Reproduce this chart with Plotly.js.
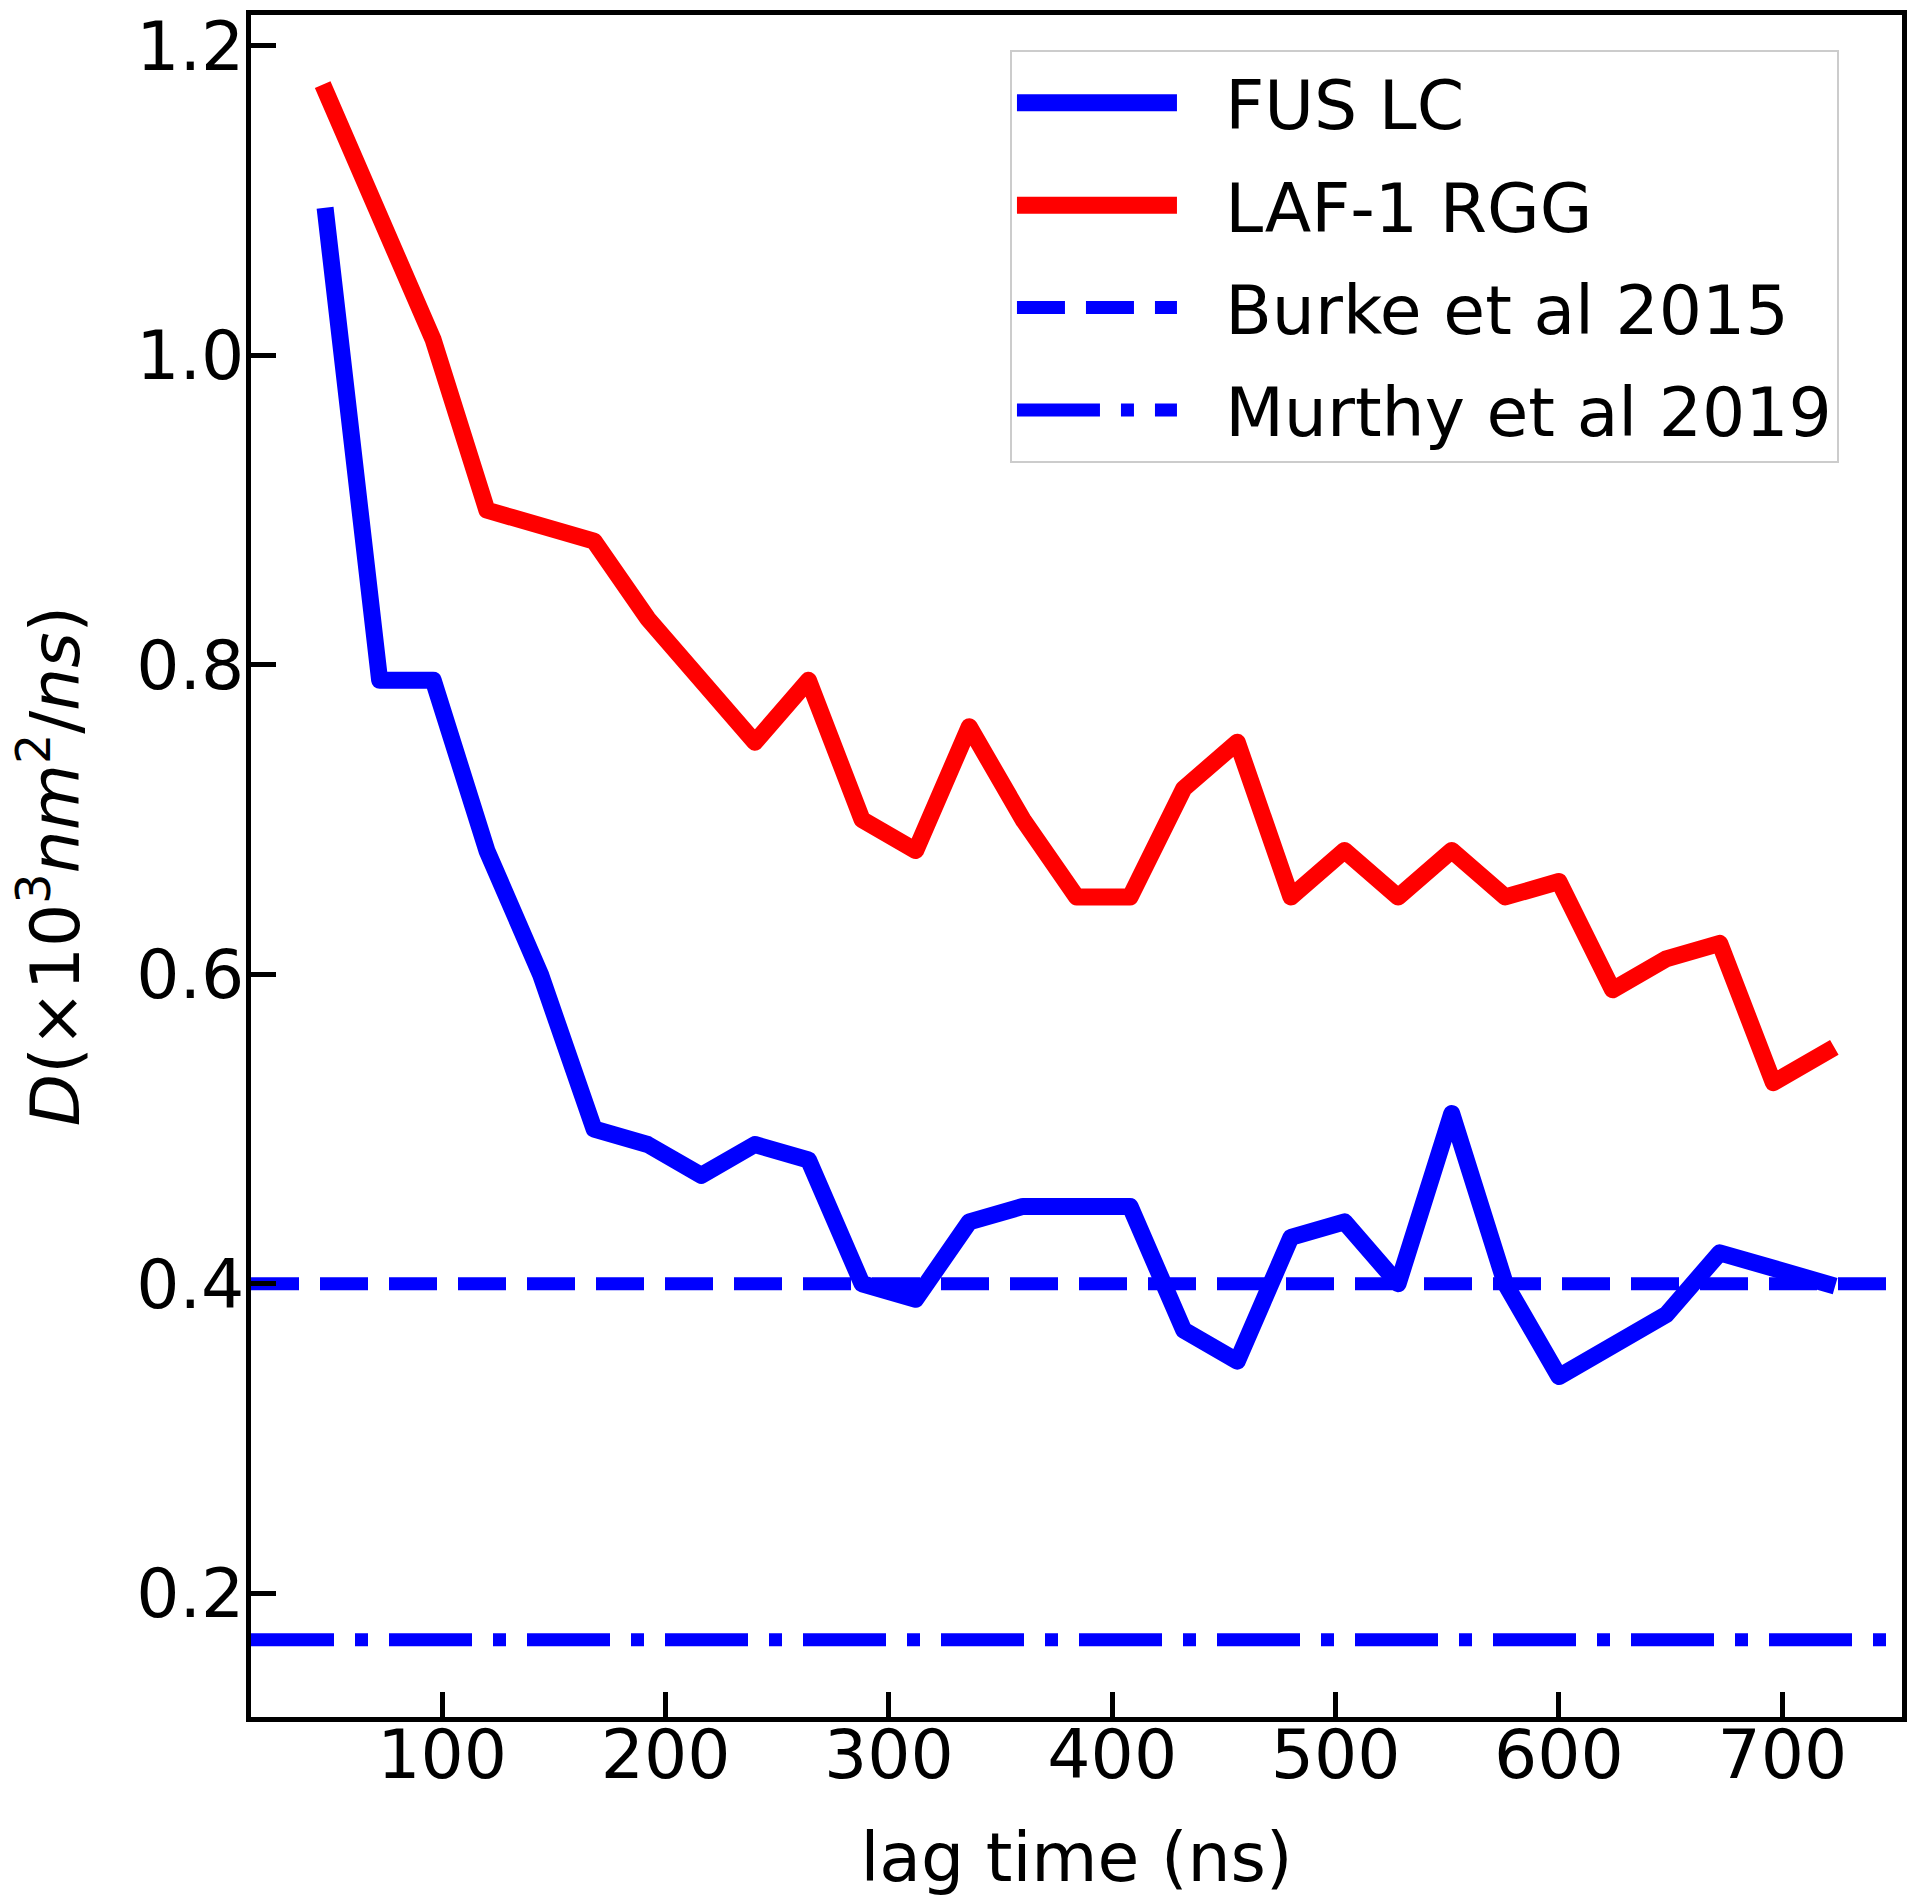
<!DOCTYPE html>
<html>
<head>
<meta charset="utf-8">
<script src="https://cdn.plot.ly/plotly-3.0.1.min.js"></script>
<style>
  html, body { margin: 0; padding: 0; background: #ffffff; }
  #chart { width: 1920px; height: 1901px; }
  .scatterlayer .js-line { stroke-linejoin: round; }
  .scatterlayer .trace:nth-child(-n+2) .js-line { stroke-linecap: square; }
  .legend .groups:nth-child(-n+2) .legendlines path { stroke-width: 17px !important; }
  .legend .groups:nth-child(n+3) .legendlines path { stroke-width: 13px !important; }
</style>
</head>
<body>
<div id="chart"></div>
<script>
// ---- data ----
const lagTime = [48, 72, 96, 120, 144, 168, 192, 216, 240, 264, 288, 312, 336, 360, 384,
                 408, 432, 456, 480, 504, 528, 552, 576, 600, 624, 648, 672, 696, 720];
const fusLC = [1.09, 0.79, 0.79, 0.68, 0.60, 0.50, 0.49, 0.47, 0.49, 0.48, 0.40, 0.39, 0.44, 0.45, 0.45,
               0.45, 0.37, 0.35, 0.43, 0.44, 0.40, 0.51, 0.40, 0.34, 0.36, 0.38, 0.42, 0.41, 0.40];
const laf1RGG = [1.17, 1.09, 1.01, 0.90, 0.89, 0.88, 0.83, 0.79, 0.75, 0.79, 0.70, 0.68, 0.76, 0.70, 0.65,
                 0.65, 0.72, 0.75, 0.65, 0.68, 0.65, 0.68, 0.65, 0.66, 0.59, 0.61, 0.62, 0.53, 0.55];
const burke2015 = 0.40;
const murthy2019 = 0.17;
const seriesNames = ["FUS LC", "LAF-1 RGG", "Burke et al 2015", "Murthy et al 2019"];
const xRange = [14.4, 753.6];
const yRange = [0.12, 1.22];
const xTicks = [100, 200, 300, 400, 500, 600, 700];
const yTicks = [0.2, 0.4, 0.6, 0.8, 1.0, 1.2];

const BLUE = "#0000ff", RED = "#ff0000";
const LW_SOLID = 17, LW_REF = 13;
const PAD = "\u00a0\u00a0";

const traces = [
  { x: lagTime, y: fusLC, name: PAD + seriesNames[0], mode: "lines", legendgroup: "a",
    line: { color: BLUE, width: LW_SOLID } },
  { x: lagTime, y: laf1RGG, name: PAD + seriesNames[1], mode: "lines", legendgroup: "b",
    line: { color: RED, width: LW_SOLID } },
  { x: xRange, y: [burke2015, burke2015], name: PAD + seriesNames[2], mode: "lines", legendgroup: "c",
    line: { color: BLUE, width: LW_REF, dash: "48px,21px" } },
  { x: xRange, y: [murthy2019, murthy2019], name: PAD + seriesNames[3], mode: "lines", legendgroup: "d",
    line: { color: BLUE, width: LW_REF, dash: "83px,21px,13px,21px" } }
];

const FONT = { family: "DejaVu Sans", size: 68, color: "#000000" };

const layout = {
  width: 1920, height: 1901,
  margin: { l: 251, r: 18, t: 15, b: 184 },
  paper_bgcolor: "#ffffff", plot_bgcolor: "#ffffff",
  font: FONT,
  showlegend: true,
  xaxis: {
    range: xRange, tickvals: xTicks, ticktext: xTicks.map(String),
    ticks: "inside", ticklen: 25, tickwidth: 5, tickcolor: "#000",
    showline: true, linewidth: 5, linecolor: "#000", mirror: true,
    showgrid: false, zeroline: false,
    tickfont: FONT, ticklabelstandoff: -26,
    title: { text: "lag time (ns)", font: FONT, standoff: 42 }
  },
  yaxis: {
    range: yRange, tickvals: yTicks, ticktext: yTicks.map(v => v.toFixed(1)),
    ticks: "inside", ticklen: 25, tickwidth: 5, tickcolor: "#000",
    showline: true, linewidth: 5, linecolor: "#000", mirror: true,
    showgrid: false, zeroline: false,
    tickfont: FONT, ticklabelstandoff: -12,
    title: { text: "<i>D</i>(×10<sup>3</sup><i>nm</i><sup>2</sup>/<i>ns</i>)", font: FONT, standoff: 36 }
  },
  legend: {
    x: 0.4597, y: 0.9794, xanchor: "left", yanchor: "top",
    bgcolor: "rgba(255,255,255,0.8)", bordercolor: "#cccccc", borderwidth: 2,
    font: FONT, itemwidth: 160, traceorder: "grouped", tracegroupgap: 11
  }
};

Plotly.newPlot("chart", traces, layout, { staticPlot: true, displayModeBar: false });
</script>
</body>
</html>
